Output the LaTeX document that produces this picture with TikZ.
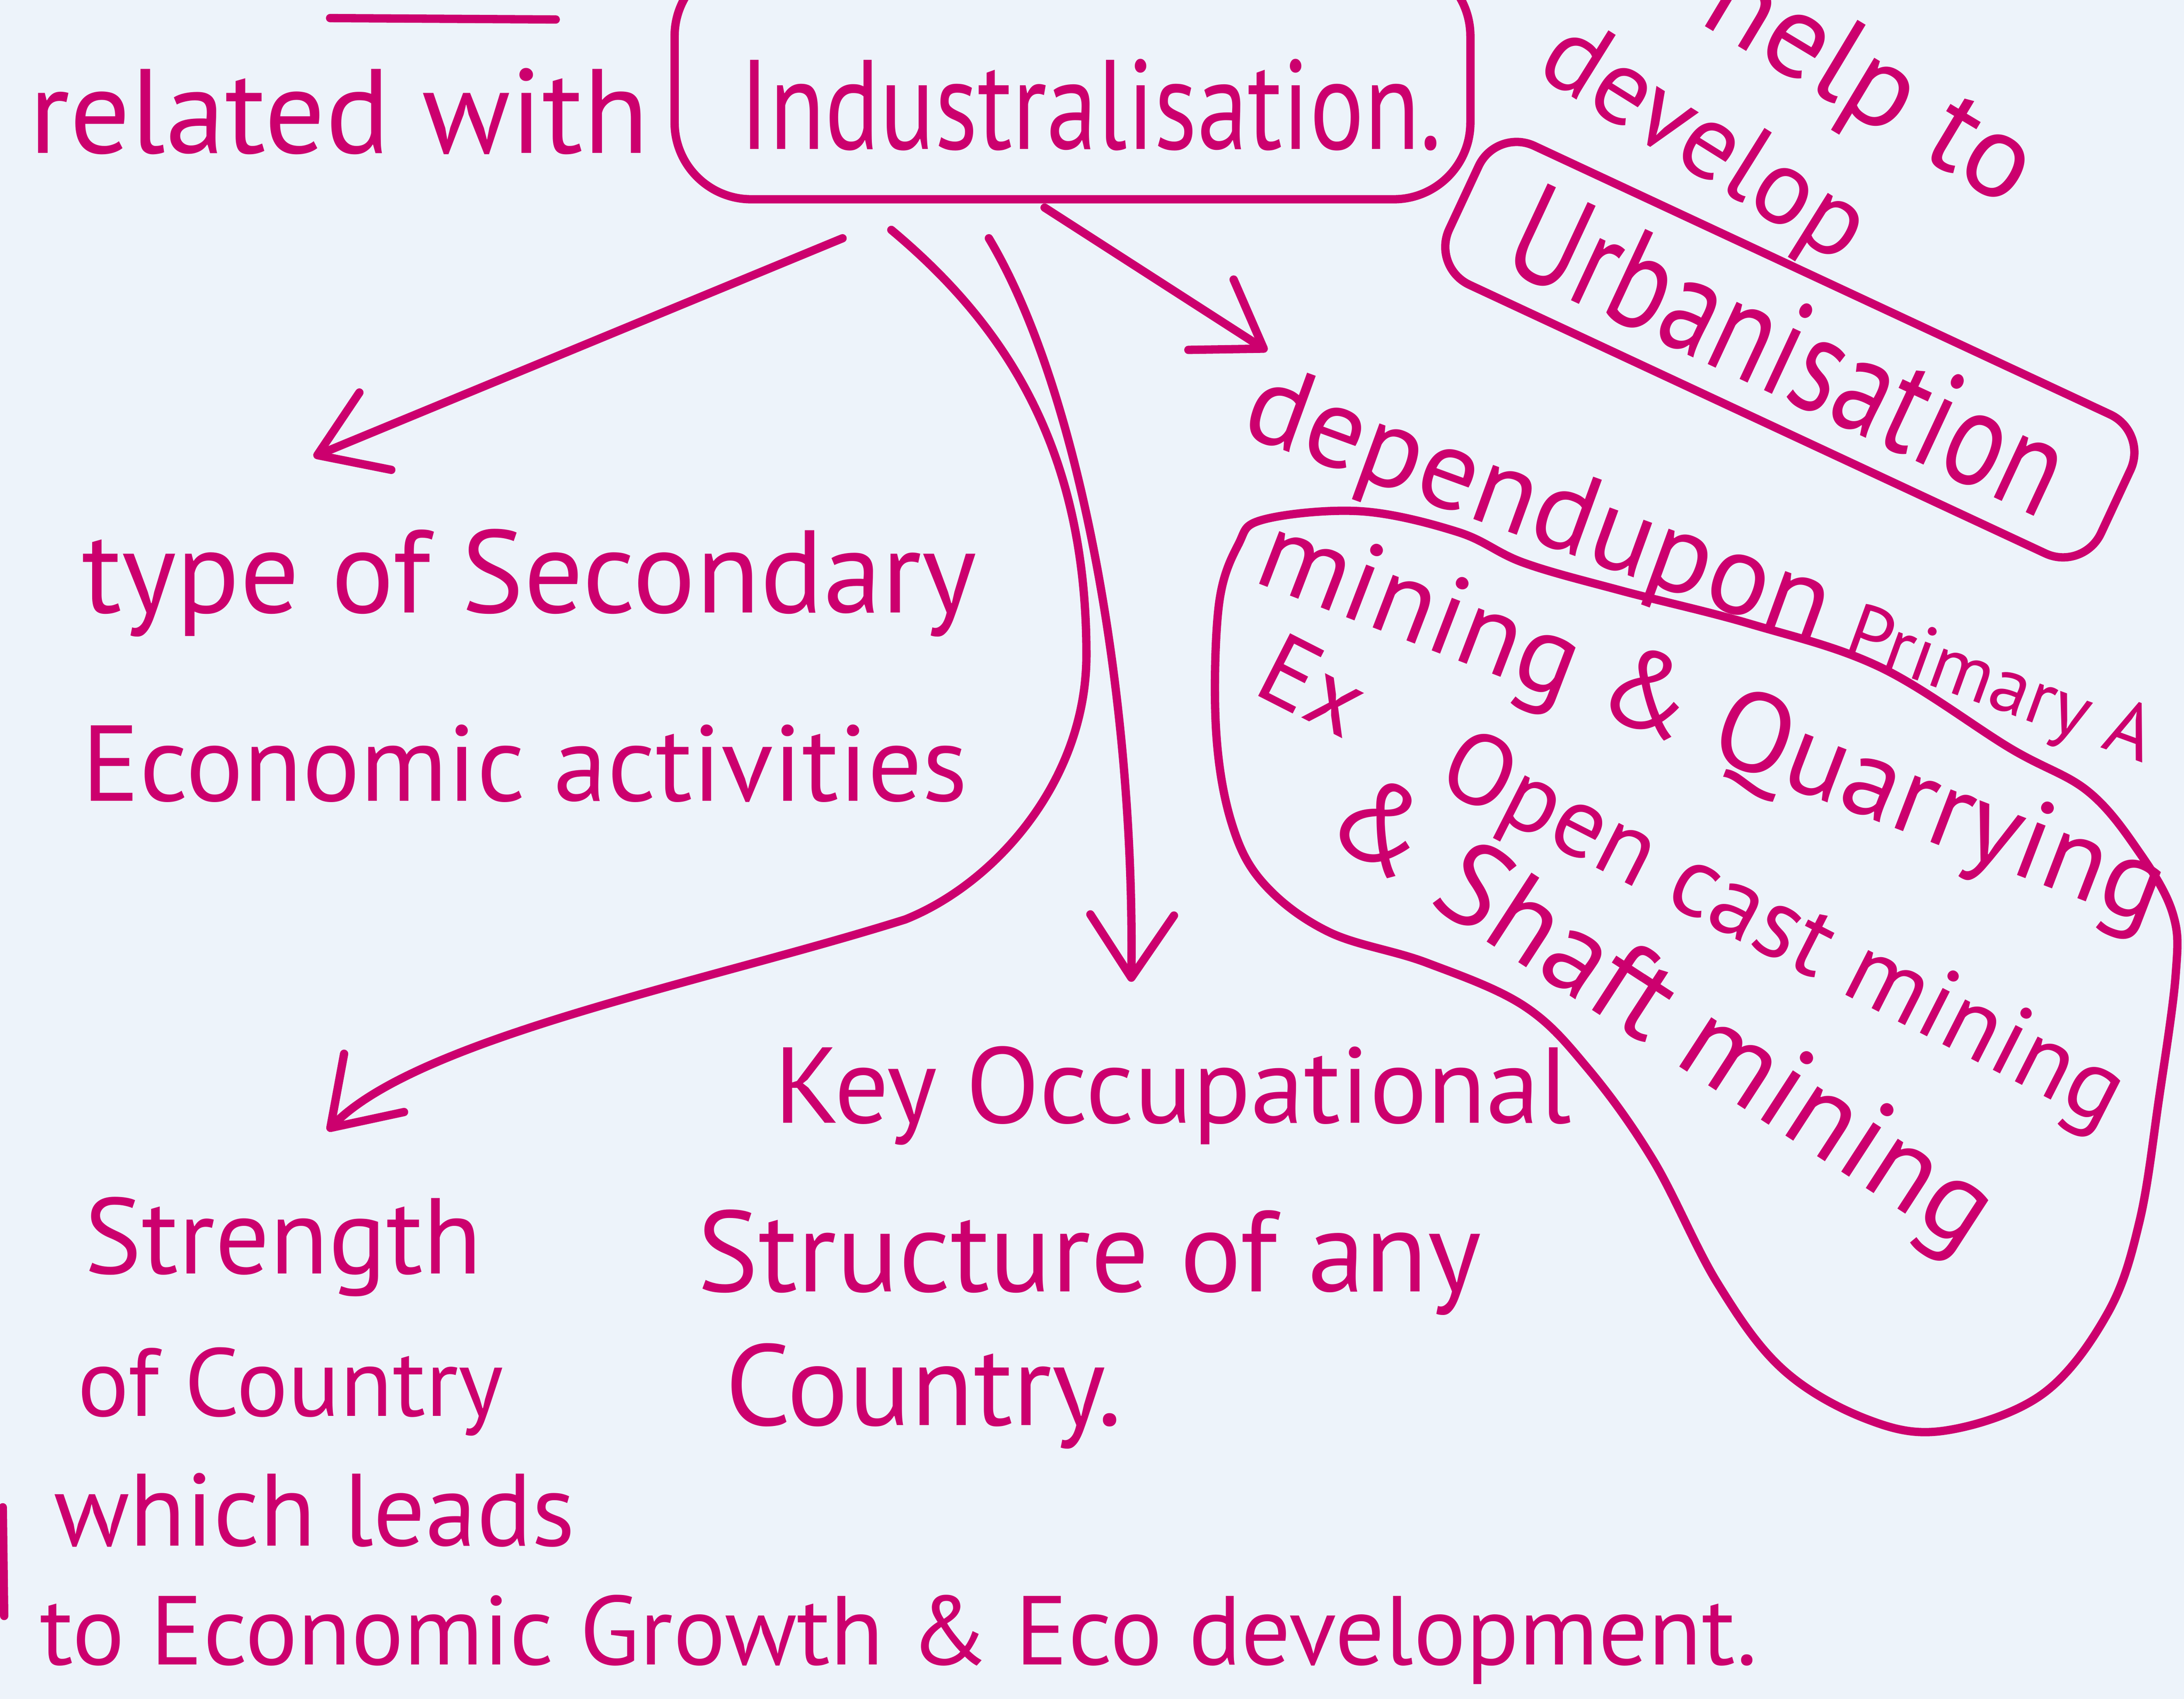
\documentclass[tikz,border=0pt]{standalone}
\usepackage{fontspec}
\setsansfont{PT Sans}
\newfontfamily\tallhand[FakeStretch=0.8]{PT Sans}
\usetikzlibrary{arrows.meta,calc}
\definecolor{ink}{HTML}{CC006E}
\definecolor{paper}{HTML}{EDF3FA}
\newcommand{\handsize}[2]{\fontsize{#1}{#2}\selectfont}
\tikzset{every picture/.style={/utils/exec={\sffamily}}}
\tikzset{pen/.style={ink, line width=1.7pt, line cap=round, line join=round}}
\tikzset{pointer/.style={pen, -{Straight Barb[length=4.5mm, width=6mm, round]}}}
\tikzset{hand/.style={text=ink, inner sep=0pt}}
\tikzset{frame/.style={hand, draw=ink, line width=1.7pt}}

\begin{document}
\begin{tikzpicture}[x=0.01cm, y=-0.01cm]
    \fill [paper] (0, 0) rectangle (1568, 1219.6);
    \useasboundingbox (0, 0) rectangle (1568, 1219.6);
    \node [frame, rounded corners=0.55cm, minimum width=5.71cm, minimum height=1.72cm, text height=1.1cm, text depth=0.1cm, text width=5.3cm, align=right, font=\tallhand\handsize{26}{30}] (ind) at (770, 57) {Industralisation.};
    \node [hand, anchor=base west, font=\handsize{24.5}{30}] (rel) at (20, 110) {related with};
    \node [hand, rotate=-31, font=\handsize{24.5}{30}] (help) at (1341, 64) {help to};
    \node [hand, rotate=-32, font=\handsize{22}{26}] (dev) at (1222, 105) {develop};
    \node [frame, rounded corners=0.3cm, rotate=-25, minimum width=5.16cm, minimum height=1.1cm, font=\tallhand\handsize{28}{32}] (urb) at (1285, 251) {Urbanisation};
    \node [hand, rotate=-20, font=\handsize{20}{24}] (dep) at (1221, 410) {{\handsize{23.5}{28}dependupon} {\handsize{16}{20}Primary A}};
    \node [hand, rotate=-21, font=\handsize{23}{28}] (quarry) at (1228, 522) {mining \& Quarrying};
    \node [hand, rotate=-27, font=\handsize{20.5}{25}] (open) at (1213, 637) {Ex\quad Open cast mining};
    \node [hand, rotate=-33, font=\handsize{24}{28}] (shaft) at (1191, 731) {\& Shaft mining};
    \node [hand, anchor=base west, align=left, font=\handsize{24}{38.4}] (sec) at (58, 575) {type of Secondary\\\handsize{22}{38.4}Economic activities};
    \node [hand, anchor=base west, align=left, font=\handsize{23.5}{30.7}] (key) at (500, 1023) {\hspace*{0.55cm}\handsize{22}{30.7}Key Occupational\\[0.13cm]Structure of any\\[-0.12cm]\hspace*{0.2cm}Country.};
    \node [hand, anchor=base west, align=left, font=\handsize{21}{26.5}] (str) at (28, 1195) {\hspace*{0.32cm}\handsize{22}{26.5}Strength\\[0.09cm]\hspace*{0.27cm}\handsize{19.7}{26.5}of Country\\\hspace*{0.1cm}which leads\\[-0.08cm]\handsize{20}{26.5}to Economic Growth \& Eco development.};
    \draw [pen] (237, 13) -- (399, 14);
    \draw [pen] (2, 1082) -- (3, 1160);
    \draw [pen] plot [smooth cycle, tension=0.6] coordinates {(907,373) (977,367) (1047,382) (1094,404) (1164,424) (1257,448) (1350,479) (1443,537) (1499,568) (1536,612) (1560,656) (1562,700) (1550,789) (1536,877) (1513,943) (1466,1001) (1396,1027) (1341,1019) (1280,983) (1233,921) (1187,833) (1140,767) (1094,722) (1024,691) (954,669) (907,634) (884,590) (873,523) (875,435) (889,391)};
    \draw [pointer] ([xshift=-1.65cm, yshift=-0.25cm]ind.south) -- ([xshift=1.67cm, yshift=2.47cm]sec.base west);
    \draw [pointer] ([xshift=-1.3cm, yshift=-0.19cm]ind.south) .. controls (720, 232) and (780, 320) .. (780, 470) .. controls (780, 560) and (715, 634) .. (650, 660) .. controls (507, 705) and (300, 745) .. ([xshift=2.07cm, yshift=3.83cm]str.base west);
    \draw [pointer] ([xshift=-0.6cm, yshift=-0.25cm]ind.south) .. controls (775, 280) and (815, 500) .. ([xshift=3.12cm, yshift=3.18cm]key.base west);
    \draw [pointer] ([xshift=-0.2cm, yshift=-0.03cm]ind.south) -- ([xshift=-3.11cm, yshift=1.58cm]dep.center);
\end{tikzpicture}
\end{document}
